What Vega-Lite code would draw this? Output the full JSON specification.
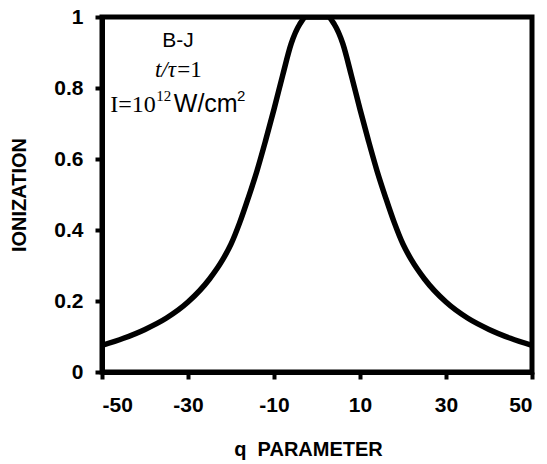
{
  "$schema": "https://vega.github.io/schema/vega-lite/v6.json",
  "autosize": "none",
  "width": 430,
  "height": 355,
  "padding": {"left": 102, "top": 17, "right": 15, "bottom": 92},
  "background": "white",
  "config": {
    "view": {"stroke": "black", "strokeWidth": 5},
    "axis": {
      "domainColor": "black", "domainWidth": 5,
      "tickColor": "black", "tickWidth": 4, "tickSize": 7,
      "labelFont": "Liberation Sans", "labelFontWeight": "bold", "labelFontSize": 21, "labelColor": "black",
      "titleFont": "Liberation Sans", "titleFontWeight": "bold", "titleFontSize": 20, "titleColor": "black",
      "labelExpr": "'' + datum.value",
      "grid": false
    }
  },
  "layer": [
    {
      "data": {"values": [
        {"q": -50, "v": 0.075}, {"q": -45, "v": 0.095}, {"q": -40, "v": 0.12}, {"q": -35, "v": 0.152},
        {"q": -30, "v": 0.197}, {"q": -25, "v": 0.262}, {"q": -22, "v": 0.315}, {"q": -20, "v": 0.36},
        {"q": -18, "v": 0.42}, {"q": -16, "v": 0.49}, {"q": -14, "v": 0.565}, {"q": -12, "v": 0.65},
        {"q": -10, "v": 0.74}, {"q": -8, "v": 0.835}, {"q": -6, "v": 0.925}, {"q": -4, "v": 0.98},
        {"q": -2.5, "v": 1.0}, {"q": 0, "v": 1.0}, {"q": 2.5, "v": 1.0},
        {"q": 4, "v": 0.98}, {"q": 6, "v": 0.925}, {"q": 8, "v": 0.835}, {"q": 10, "v": 0.74},
        {"q": 12, "v": 0.65}, {"q": 14, "v": 0.565}, {"q": 16, "v": 0.49}, {"q": 18, "v": 0.42},
        {"q": 20, "v": 0.36}, {"q": 22, "v": 0.315}, {"q": 25, "v": 0.262}, {"q": 30, "v": 0.197},
        {"q": 35, "v": 0.152}, {"q": 40, "v": 0.12}, {"q": 45, "v": 0.095}, {"q": 50, "v": 0.075}
      ]},
      "mark": {"type": "line", "color": "black", "strokeWidth": 5.5, "interpolate": "monotone", "clip": true},
      "encoding": {
        "x": {"field": "q", "type": "quantitative",
              "scale": {"domain": [-50, 50], "nice": false, "zero": false},
              "axis": {"values": [-50, -30, -10, 10, 30, 50], "title": "q\u00a0\u00a0PARAMETER", "labelPadding": 15, "titlePadding": 24, "titleX": 206}},
        "y": {"field": "v", "type": "quantitative",
              "scale": {"domain": [0, 1], "nice": false},
              "axis": {"values": [0, 0.2, 0.4, 0.6, 0.8, 1], "title": "IONIZATION", "labelPadding": 12, "titlePadding": 24}}
      }
    },
    {
      "data": {"values": [{"q": -32.3, "v": 0.915, "t": "B-J"}]},
      "mark": {"type": "text", "font": "Liberation Sans", "fontSize": 21, "align": "center", "baseline": "alphabetic", "color": "black"},
      "encoding": {"x": {"field": "q", "type": "quantitative"}, "y": {"field": "v", "type": "quantitative"}, "text": {"field": "t"}}
    },
    {
      "data": {"values": [{"q": -37.7, "v": 0.831, "t": "t/τ"}]},
      "mark": {"type": "text", "font": "Liberation Serif", "fontStyle": "italic", "fontSize": 23, "align": "left", "baseline": "alphabetic", "color": "black"},
      "encoding": {"x": {"field": "q", "type": "quantitative"}, "y": {"field": "v", "type": "quantitative"}, "text": {"field": "t"}}
    },
    {
      "data": {"values": [{"q": -32.5, "v": 0.831, "t": "=1"}]},
      "mark": {"type": "text", "font": "Liberation Serif", "fontSize": 23, "align": "left", "baseline": "alphabetic", "color": "black"},
      "encoding": {"x": {"field": "q", "type": "quantitative"}, "y": {"field": "v", "type": "quantitative"}, "text": {"field": "t"}}
    },
    {
      "data": {"values": [{"q": -48.1, "v": 0.732, "t": "I=10"}]},
      "mark": {"type": "text", "font": "Liberation Serif", "fontSize": 24, "align": "left", "baseline": "alphabetic", "color": "black"},
      "encoding": {"x": {"field": "q", "type": "quantitative"}, "y": {"field": "v", "type": "quantitative"}, "text": {"field": "t"}}
    },
    {
      "data": {"values": [{"q": -37.4, "v": 0.762, "t": "12"}]},
      "mark": {"type": "text", "font": "Liberation Serif", "fontSize": 15, "align": "left", "baseline": "alphabetic", "color": "black"},
      "encoding": {"x": {"field": "q", "type": "quantitative"}, "y": {"field": "v", "type": "quantitative"}, "text": {"field": "t"}}
    },
    {
      "data": {"values": [{"q": -33.3, "v": 0.732, "t": "W/cm"}]},
      "mark": {"type": "text", "font": "Liberation Sans", "fontSize": 25, "align": "left", "baseline": "alphabetic", "color": "black"},
      "encoding": {"x": {"field": "q", "type": "quantitative"}, "y": {"field": "v", "type": "quantitative"}, "text": {"field": "t"}}
    },
    {
      "data": {"values": [{"q": -18.6, "v": 0.764, "t": "2"}]},
      "mark": {"type": "text", "font": "Liberation Sans", "fontSize": 15, "align": "left", "baseline": "alphabetic", "color": "black"},
      "encoding": {"x": {"field": "q", "type": "quantitative"}, "y": {"field": "v", "type": "quantitative"}, "text": {"field": "t"}}
    }
  ]
}
